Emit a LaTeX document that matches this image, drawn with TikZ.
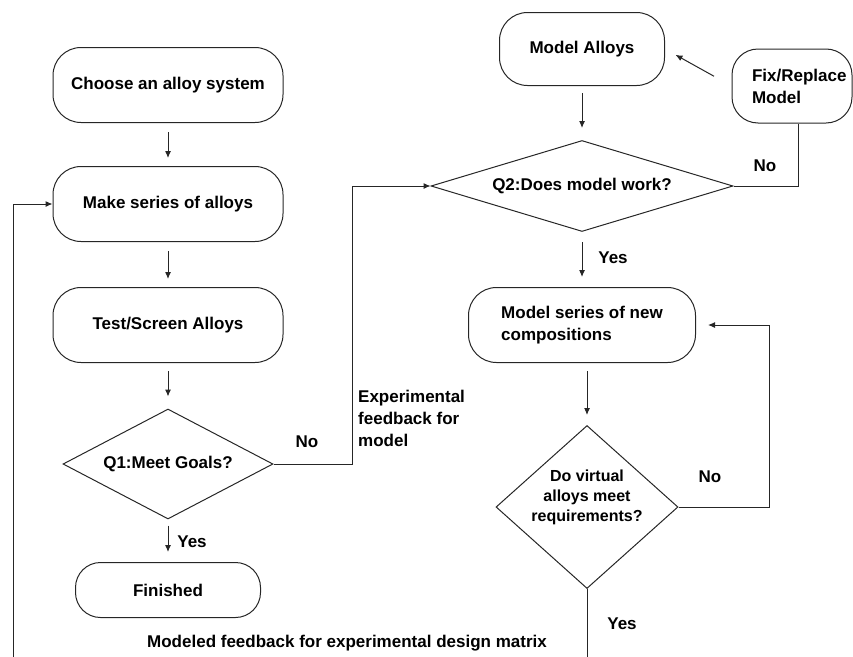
\documentclass[tikz,border=0pt]{standalone}
\usepackage{fontspec}
\setmainfont{Liberation Sans}
\usetikzlibrary{shapes.geometric,arrows.meta,calc}
\begin{document}
\begin{tikzpicture}[x=1pt,y=-1pt,
  font=\fontsize{17}{22}\selectfont\bfseries,
  line/.style={draw=black!85, line width=1pt},
  arr/.style={line, -{Latex[length=7pt,width=6pt]}},
  term/.style={line, rounded corners=28pt, inner sep=0pt, align=center},
  dec/.style={line, diamond, inner sep=0pt, align=center},
  lab/.style={inner sep=0pt}]
\useasboundingbox (0,0) rectangle (853,656);
% left column
\node[term, minimum width=230pt, minimum height=75pt] (choose) at (168,85) {Choose an alloy system};
\node[term, minimum width=230pt, minimum height=75pt] (make) at (168,204) {Make series of alloys};
\node[term, minimum width=230pt, minimum height=75pt] (test) at (168,325) {Test/Screen Alloys};
\node[dec, aspect=2, minimum width=210pt, minimum height=110pt] (q1) at (168,464) {Q1:Meet Goals?};
\node[term, rounded corners=25pt, minimum width=185pt, minimum height=55pt] (fin) at (168,590) {Finished};
% right column
\node[term, minimum width=165pt, minimum height=73pt] (model) at (582,49) {Model Alloys};
\node[term, rounded corners=26pt, minimum width=120pt, minimum height=74pt, align=left] (fix) at (792,86) {\makebox[80pt][l]{Fix/Replace}\\Model};
\node[dec, aspect=3, minimum width=302pt, minimum height=91pt] (q2) at (582,186) {Q2:Does model work?};
\node[term, minimum width=227pt, minimum height=75pt, align=left] (ms) at (582,325) {Model series of new\\compositions};
\node[dec, minimum width=182pt, minimum height=163pt,
  label={[name=d2t, align=center, font=\fontsize{16}{20}\selectfont\bfseries, yshift=10pt]center:Do virtual\\alloys meet\\requirements?}] (d2) at (587,507) {};
% labels
\node[lab] (q1no) at (307,442) {No};
\node[lab, anchor=west, align=left] (expfb) at (358,418) {Experimental\\feedback for\\model};
\node[lab] (q1yes) at (192,542) {Yes};
\node[lab] (q2no) at (765,166) {No};
\node[lab] (q2yes) at (613,258) {Yes};
\node[lab] (d2no) at (710,477) {No};
\node[lab] (d2yes) at (622,624) {Yes};
\node[lab] (modfb) at (347,643) {Modeled feedback for experimental design matrix};
% helper coordinates
\coordinate (fx) at (352,0);
\coordinate (rx) at (769,0);
\coordinate (lx) at (13,0);
\coordinate (below) at (0,690);
% connectors
\draw[arr, shorten <=9pt, shorten >=8pt] (choose) -- (make);
\draw[arr, shorten <=9pt, shorten >=8pt] (make) -- (test);
\draw[arr, shorten <=8pt, shorten >=12pt] (test) -- (q1);
\draw[arr, shorten <=6pt, shorten >=10pt] (q1) -- (fin);
\draw[arr] (q1.east) -| (fx |- q2.west) -- (q2.west);
\draw[arr, shorten <=20pt, shorten >=12pt] (fix.west) -- (model.east);
\draw[arr, shorten <=7pt, shorten >=12pt] (model) -- (q2);
\draw[line] (q2.east) -| ([xshift=6pt]fix.south);
\draw[arr, shorten <=10pt, shorten >=10pt] (q2) -- (ms);
\draw[arr, shorten <=8pt, shorten >=10pt] (ms.south -| d2.north) -- (d2.north);
\draw[arr] (d2.east) -| (rx |- ms.east) -- ([xshift=12pt]ms.east);
\draw[arr] (d2.south) -- (d2.south |- below) -| (lx |- make.west) -- (make.west);
\end{tikzpicture}
\end{document}
